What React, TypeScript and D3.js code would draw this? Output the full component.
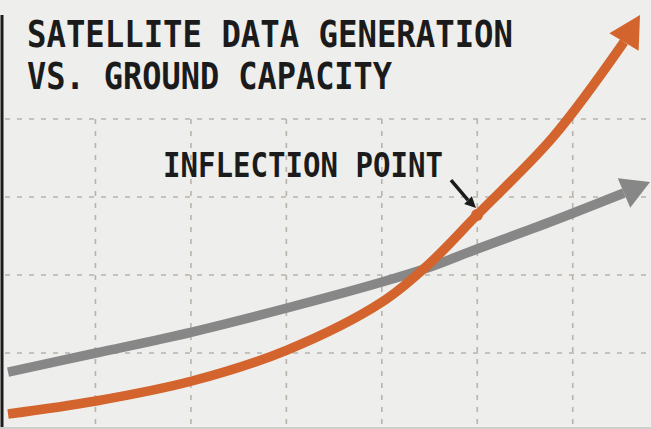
import React from "react";
import * as d3 from "d3";

const W = 651;
const H = 429;

const xGridValues = [1, 2, 3, 4, 5, 6];
const yGridValues = [1, 2, 3, 4];

// Satellite data generation (orange) — last point is the arrow tip
const generationX = [0.084, 1.006, 2.011, 3.007, 4.002, 4.505, 4.997, 5.794, 6.537, 6.705];
const generationY = [0.218, 0.385, 0.641, 1.038, 1.654, 2.154, 2.769, 3.769, 4.987, 5.333];

// Ground capacity (gray) — last point is the arrow tip
const capacityX = [0.084, 1.006, 2.011, 3.007, 4.002, 4.505, 4.997, 5.762, 6.537, 6.81];
const capacityY = [0.756, 1.0, 1.269, 1.577, 1.91, 2.103, 2.333, 2.679, 3.051, 3.192];

const titleLines = ["SATELLITE DATA GENERATION", "VS. GROUND CAPACITY"];
const annotationText = "INFLECTION POINT";
const inflection = { x: 4.997, y: 2.769 };

const ORANGE = "#d4642d";
const GRAY = "#878787";
const GRID = "#b9b3aa";
const BG = "#eeeeec";
const INK = "#1b1b1b";
const FONT = "'DejaVu Sans Mono', monospace";

const xScale = d3.scaleLinear().domain([0, 6.82]).range([0, W]);
const yScale = d3.scaleLinear().domain([0, 5.526]).range([431, 0]);

type Pt = [number, number];

function toPts(xs: number[], ys: number[]): Pt[] {
  return xs.map((x, i) => [xScale(x), yScale(ys[i])] as Pt);
}

function arrowHead(base: Pt, tip: Pt, halfWidth: number): string {
  const dx = tip[0] - base[0];
  const dy = tip[1] - base[1];
  const len = Math.hypot(dx, dy);
  const nx = -dy / len;
  const ny = dx / len;
  const p1: Pt = [base[0] + nx * halfWidth, base[1] + ny * halfWidth];
  const p2: Pt = [base[0] - nx * halfWidth, base[1] - ny * halfWidth];
  return `M${tip[0]},${tip[1]}L${p1[0]},${p1[1]}L${p2[0]},${p2[1]}Z`;
}

const lineGen = d3
  .line<Pt>()
  .x((d) => d[0])
  .y((d) => d[1])
  .curve(d3.curveCatmullRom.alpha(0.5));

function Series({ xs, ys, color, halfWidth }: { xs: number[]; ys: number[]; color: string; halfWidth: number }) {
  const pts = toPts(xs, ys);
  const body = pts.slice(0, pts.length - 1);
  const tip = pts[pts.length - 1];
  const base = pts[pts.length - 2];
  return (
    <g>
      <path d={lineGen(body) || ""} fill="none" stroke={color} strokeWidth={9.5} strokeLinecap="butt" />
      <path d={arrowHead(base, tip, halfWidth)} fill={color} />
    </g>
  );
}

export default function App() {
  const ix = xScale(inflection.x);
  const iy = yScale(inflection.y);
  const aTip: Pt = [ix - 1, iy - 7];
  const aTail: Pt = [ix - 26, iy - 35];
  const aBase: Pt = [ix - 9, iy - 15];
  return (
    <svg
      width={W}
      height={H}
      style={{ position: "fixed", left: 0, top: 0, display: "block" }}
    >
      <rect x={0} y={0} width={W} height={H} fill={BG} />
      {/* grid */}
      <g stroke={GRID} strokeWidth={1.6} strokeDasharray="5,7">
        {yGridValues.map((v) => (
          <line key={"h" + v} x1={5} x2={W} y1={yScale(v)} y2={yScale(v)} />
        ))}
        {xGridValues.map((v) => (
          <line key={"v" + v} x1={xScale(v)} x2={xScale(v)} y1={yScale(4)} y2={H} />
        ))}
      </g>
      {/* axis */}
      <line x1={2} x2={2} y1={15} y2={H} stroke={INK} strokeWidth={3} />
      <line x1={0} x2={W} y1={H - 1} y2={H - 1} stroke="#cfcfcd" strokeWidth={2} />
      {/* title */}
      {titleLines.map((t, i) => (
        <text
          key={t}
          x={27}
          y={47 + i * 42}
          fontFamily={FONT}
          fontWeight="bold"
          fontSize={38}
          fill={INK}
          textLength={i === 0 ? 486 : 365}
          lengthAdjust="spacingAndGlyphs"
        >
          {t}
        </text>
      ))}
      <Series xs={capacityX} ys={capacityY} color={GRAY} halfWidth={16} />
      <Series xs={generationX} ys={generationY} color={ORANGE} halfWidth={17} />
      <circle cx={ix} cy={iy} r={6} fill={ORANGE} />
      {/* annotation */}
      <text
        x={163}
        y={177}
        fontFamily={FONT}
        fontWeight="bold"
        fontSize={34}
        fill={INK}
        textLength={280}
        lengthAdjust="spacingAndGlyphs"
      >
        {annotationText}
      </text>
      <line x1={aTail[0]} y1={aTail[1]} x2={aBase[0]} y2={aBase[1]} stroke={INK} strokeWidth={3.5} />
      <path d={arrowHead(aBase, aTip, 5.5)} fill={INK} />
    </svg>
  );
}
